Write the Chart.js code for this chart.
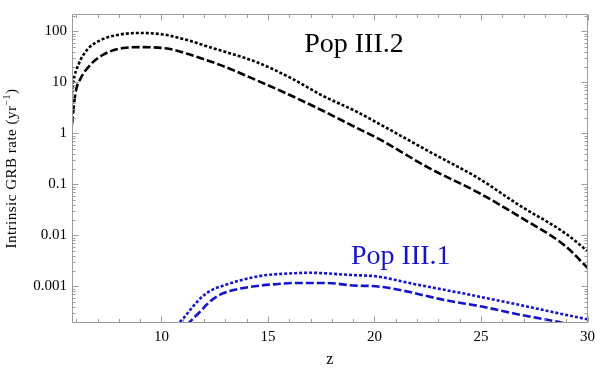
<!DOCTYPE html>
<html>
<head>
<meta charset="utf-8">
<script src="https://cdn.jsdelivr.net/npm/chart.js@4/dist/chart.umd.min.js"></script>
<style>
  html, body { margin: 0; padding: 0; background: #ffffff; }
  canvas { display: block; }
</style>
</head>
<body>
<canvas id="c" width="600" height="369"></canvas>
<script>
// ---- Data ----
// Pop III.2, upper (dotted) curve
const pop2UpperZ    = [5.8, 5.86, 6.1, 6.5, 7.1, 8.0, 9.0, 10.0, 10.4, 11.3, 12.0, 12.87, 14.46, 16.0, 17.55, 19.13, 20.2, 22.7, 24.9, 26.75, 28.95, 30];
const pop2UpperRate = [6, 10, 22, 43, 66, 86, 93, 88, 82, 66, 53, 41, 25, 12.6, 5.5, 2.7, 1.55, 0.41, 0.13, 0.04, 0.011, 0.0049];
// Pop III.2, lower (dashed) curve
const pop2LowerZ    = [5.8, 5.96, 6.2, 6.66, 7.27, 8.2, 9.1, 10.4, 11.33, 12.87, 14.46, 16.0, 17.55, 19.13, 20.2, 22.55, 24.9, 26.75, 28.95, 30];
const pop2LowerRate = [1.5, 6.1, 11.8, 22, 35, 47, 49, 45, 35, 21, 11, 5.7, 2.8, 1.3, 0.78, 0.21, 0.068, 0.024, 0.0062, 0.0023];
// Pop III.1, upper (dotted) curve
const pop1UpperZ    = [10.7, 11.02, 11.33, 11.65, 11.95, 12.42, 13.05, 13.67, 14.29, 14.92, 15.54, 16.94, 18.95, 20.06, 21.9, 24.27, 25.04, 26.6, 28.9, 30];
const pop1UpperRate = [0.00017, 0.000234, 0.000337, 0.000483, 0.000647, 0.000867, 0.00108, 0.0013, 0.0015, 0.00166, 0.00174, 0.00184, 0.00166, 0.00157, 0.0011, 0.00071, 0.00061, 0.00045, 0.00028, 0.000225];
// Pop III.1, lower (dashed) curve
const pop1LowerZ    = [11.2, 11.49, 11.8, 12.11, 12.42, 12.89, 13.51, 14.14, 14.6, 15.38, 16.16, 17.72, 19.12, 20.06, 23.48, 25.04, 26.6, 28.86, 29.3];
const pop1LowerRate = [0.000175, 0.000234, 0.000313, 0.000432, 0.000561, 0.000728, 0.000867, 0.00097, 0.00103, 0.0011, 0.00116, 0.00116, 0.00103, 0.0010, 0.00052, 0.00040, 0.00029, 0.00019, 0.00017];

// Tick labels
const xTickValues = [10, 15, 20, 25, 30];
const yTickValues = [0.001, 0.01, 0.1, 1, 10, 100];
const yTickLabels = ['0.001', '0.01', '0.1', '1', '10', '100'];

// Text
const seriesLabels = ['Pop III.2', 'Pop III.1'];
const yTitleMain = 'Intrinsic GRB rate (yr';
const yTitleSup = '\u22121';
const yTitleEnd = ')';

const toXY = (zs, vs) => zs.map((z, i) => ({ x: z, y: vs[i] }));

const BLACK = '#000000';
const BLUE = '#1414cc';
const FRAME = '#9c9c9c';
const SERIF = '"Liberation Serif", "Times New Roman", serif';

const framePlugin = {
  id: 'frameTicks',
  afterDraw(chart) {
    const { ctx, chartArea, scales } = chart;
    const { left, right, top, bottom } = chartArea;
    const xs = scales.x, ys = scales.y;
    ctx.save();
    ctx.strokeStyle = FRAME;
    ctx.lineWidth = 1;
    const L = Math.round(left) + 0.5, R = Math.round(right) - 0.5;
    const T = Math.round(top) + 0.5, B = Math.round(bottom) - 0.5;
    ctx.beginPath();
    ctx.moveTo(L, T); ctx.lineTo(R, T); ctx.lineTo(R, B); ctx.lineTo(L, B); ctx.closePath();
    ctx.stroke();
    ctx.beginPath();
    for (let z = Math.ceil(xs.min); z <= xs.max; z++) {
      const px = Math.round(xs.getPixelForValue(z)) + 0.5;
      const len = xTickValues.includes(z) ? 6 : 3.5;
      ctx.moveTo(px, B); ctx.lineTo(px, B - len);
      ctx.moveTo(px, T); ctx.lineTo(px, T + len);
    }
    for (let e = -5; e <= 3; e++) {
      for (let m = 1; m <= 9; m++) {
        const v = m * Math.pow(10, e);
        if (v < ys.min || v > ys.max) continue;
        const py = Math.round(ys.getPixelForValue(v)) + 0.5;
        const len = m === 1 ? 6 : 3;
        ctx.moveTo(L, py); ctx.lineTo(L + len, py);
        ctx.moveTo(R, py); ctx.lineTo(R - len, py);
      }
    }
    ctx.stroke();
    // curve labels
    ctx.font = '28px ' + SERIF;
    ctx.textBaseline = 'alphabetic';
    ctx.textAlign = 'left';
    ctx.fillStyle = BLACK;
    ctx.fillText(seriesLabels[0], xs.getPixelForValue(16.7), ys.getPixelForValue(39));
    ctx.fillStyle = BLUE;
    ctx.fillText(seriesLabels[1], xs.getPixelForValue(18.9), ys.getPixelForValue(0.00272));
    // rotated y-axis title with superscript
    ctx.fillStyle = BLACK;
    ctx.translate(16, (top + bottom) / 2);
    ctx.rotate(-Math.PI / 2);
    ctx.letterSpacing = '0.5px';
    ctx.font = '15px ' + SERIF;
    const w1 = ctx.measureText(yTitleMain).width;
    const w3 = ctx.measureText(yTitleEnd).width;
    ctx.font = '10px ' + SERIF;
    const w2 = ctx.measureText(yTitleSup).width;
    let x0 = -(w1 + w2 + w3) / 2;
    ctx.font = '15px ' + SERIF;
    ctx.fillText(yTitleMain, x0, 0);
    ctx.font = '10px ' + SERIF;
    ctx.fillText(yTitleSup, x0 + w1, -6);
    ctx.font = '15px ' + SERIF;
    ctx.fillText(yTitleEnd, x0 + w1 + w2, 0);
    ctx.restore();
  }
};

const lineDs = (data, color, dash) => ({
  data,
  borderColor: color,
  borderWidth: 2.6,
  borderDash: dash,
  borderCapStyle: 'butt',
  pointRadius: 0,
  fill: false,
  cubicInterpolationMode: 'monotone'
});

new Chart(document.getElementById('c'), {
  type: 'line',
  data: {
    datasets: [
      lineDs(toXY(pop2UpperZ, pop2UpperRate), BLACK, [3, 2]),
      lineDs(toXY(pop2LowerZ, pop2LowerRate), BLACK, [8, 3]),
      lineDs(toXY(pop1UpperZ, pop1UpperRate), BLUE, [3, 2]),
      lineDs(toXY(pop1LowerZ, pop1LowerRate), BLUE, [8, 3])
    ]
  },
  options: {
    responsive: false,
    devicePixelRatio: 1,
    animation: false,
    layout: { padding: { left: 0, right: 10, top: 3, bottom: 0 } },
    plugins: { legend: { display: false }, tooltip: { enabled: false } },
    scales: {
      x: {
        type: 'linear',
        min: 5.8,
        max: 30,
        grid: { display: false, drawTicks: false },
        border: { display: false },
        afterBuildTicks: (s) => { s.ticks = xTickValues.map(v => ({ value: v })); },
        afterFit: (s) => { s.height = 46; },
        ticks: {
          color: '#000',
          font: { family: SERIF, size: 15 },
          padding: 5,
          maxRotation: 0,
          callback: (v) => String(v)
        },
        title: {
          display: true,
          text: 'z',
          color: '#000',
          font: { family: SERIF, size: 16 },
          padding: { top: 2, bottom: 0 }
        }
      },
      y: {
        type: 'logarithmic',
        min: Math.pow(10, -3.72),
        max: Math.pow(10, 2.34),
        grid: { display: false, drawTicks: false },
        border: { display: false },
        afterBuildTicks: (s) => { s.ticks = yTickValues.map(v => ({ value: v })); },
        afterFit: (s) => { s.width = 72; },
        ticks: {
          color: '#000',
          font: { family: SERIF, size: 15 },
          padding: 5,
          callback: (v) => {
            const i = yTickValues.findIndex(t => Math.abs(t - v) / t < 1e-6);
            return i >= 0 ? yTickLabels[i] : '';
          }
        },
        title: { display: false }
      }
    }
  },
  plugins: [framePlugin]
});
</script>
</body>
</html>
